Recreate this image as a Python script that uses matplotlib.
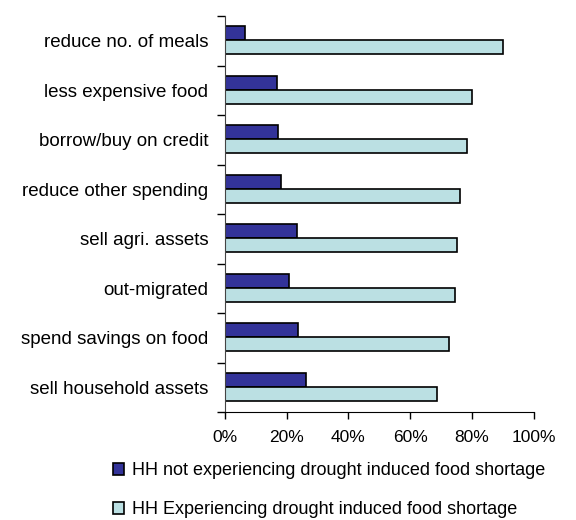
import numpy as np
import matplotlib
matplotlib.use("Agg")
import matplotlib.pyplot as plt
from matplotlib.ticker import FixedLocator, PercentFormatter

# Chart data (top row first).
categories = [
    "reduce no. of meals",
    "less expensive food",
    "borrow/buy on credit",
    "reduce other spending",
    "sell agri. assets",
    "out-migrated",
    "spend savings on food",
    "sell household assets",
]
not_experiencing = [6.5, 16.7, 17.2, 18.3, 23.3, 20.7, 23.7, 26.2]
experiencing = [90.2, 80.0, 78.4, 76.3, 75.1, 74.7, 72.6, 68.6]
x_ticks = [0, 20, 40, 60, 80, 100]

label_not = "HH not experiencing drought induced food shortage"
label_exp = "HH Experiencing drought induced food shortage"

plt.rcParams["font.family"] = ["Liberation Sans", "DejaVu Sans"]
plt.rcParams["font.size"] = 13

fig = plt.figure(figsize=(5.76, 5.2), dpi=100)
ax = fig.add_axes([225 / 576, 1 - 412 / 520, 308.5 / 576, 396 / 520])

# Category positions, top row at the top.
n = len(categories)
pos = np.arange(n)[::-1]
bar_h = 0.285

ax.barh(pos + bar_h / 2 + 0.01, not_experiencing, height=bar_h,
        color="#333399", edgecolor="black", linewidth=1.2, label=label_not)
ax.barh(pos - bar_h / 2 + 0.01, experiencing, height=bar_h,
        color="#BBE0E3", edgecolor="black", linewidth=1.2, label=label_exp)

ax.set_xlim(0, 100)
ax.set_ylim(-0.5, n - 0.5)

# Axis ticks and labels.
ax.xaxis.set_major_locator(FixedLocator(x_ticks))
ax.xaxis.set_major_formatter(PercentFormatter(decimals=0))
ax.tick_params(axis="x", direction="out", length=5, width=1, pad=8, labelsize=12.5)

ax.set_yticks(pos)
ax.set_yticklabels(categories)
ax.set_yticks(np.arange(-0.5, n, 1.0), minor=True)
ax.tick_params(axis="y", which="major", length=0, pad=12, labelsize=13.5)
ax.tick_params(axis="y", which="minor", direction="out", length=6, width=1)

for side in ["top", "right"]:
    ax.spines[side].set_visible(False)
ax.spines["left"].set_color("#444444")
ax.spines["bottom"].set_color("black")

# Legend below the chart.
fig.legend(loc="upper left", bbox_to_anchor=(97 / 576, 1 - 446 / 520),
           frameon=False, handlelength=0.6, handleheight=0.6,
           handletextpad=0.45, labelspacing=1.22, fontsize=13)

fig.savefig("out.png", dpi=100)
